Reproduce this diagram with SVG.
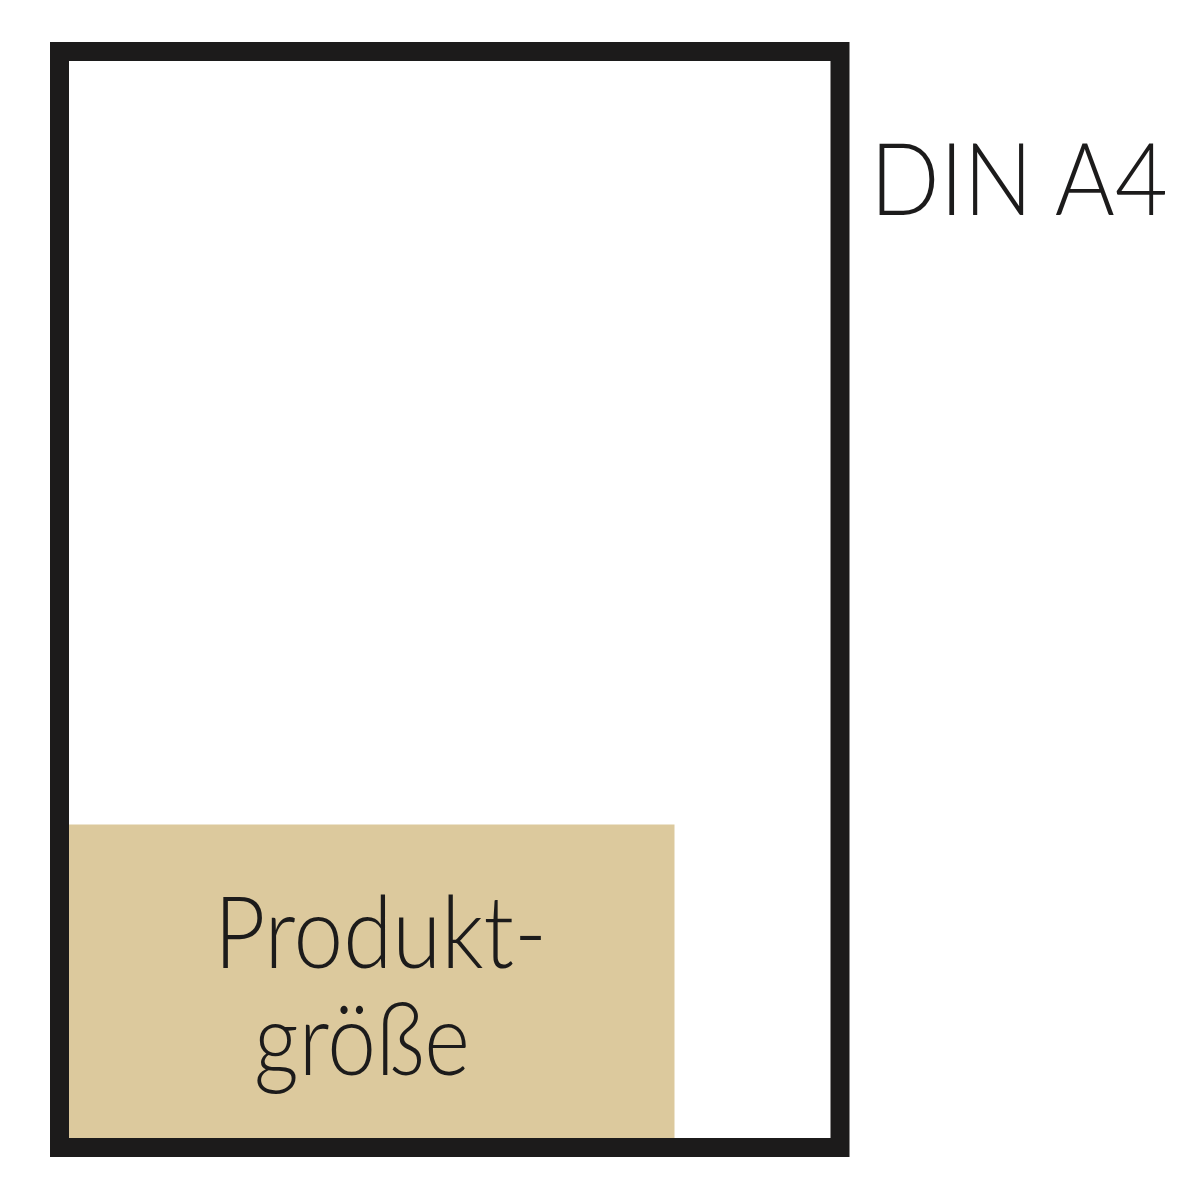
<svg xmlns="http://www.w3.org/2000/svg" width="1200" height="1200" viewBox="0 0 1200 1200">
<style>
.t{font-family:"Lato","Liberation Sans",sans-serif;font-weight:300;fill:#1c1b1b}
</style>
<rect width="1200" height="1200" fill="#ffffff"/>
<g id="product">
<rect x="66" y="824.5" width="608.5" height="314" fill="#dcc99d"/>
<text class="t" x="214" y="968" font-size="100" textLength="333" lengthAdjust="spacingAndGlyphs">Produkt-</text>
<text class="t" x="254" y="1075" font-size="100" textLength="216" lengthAdjust="spacingAndGlyphs">größe</text>
</g>
<g id="frame">
<rect x="59.5" y="51.5" width="780.5" height="1096" fill="none" stroke="#1c1b1b" stroke-width="19"/>
</g>
<g id="label">
<text class="t" x="870" y="215" font-size="100" textLength="298" lengthAdjust="spacingAndGlyphs">DIN A4</text>
</g>
</svg>
